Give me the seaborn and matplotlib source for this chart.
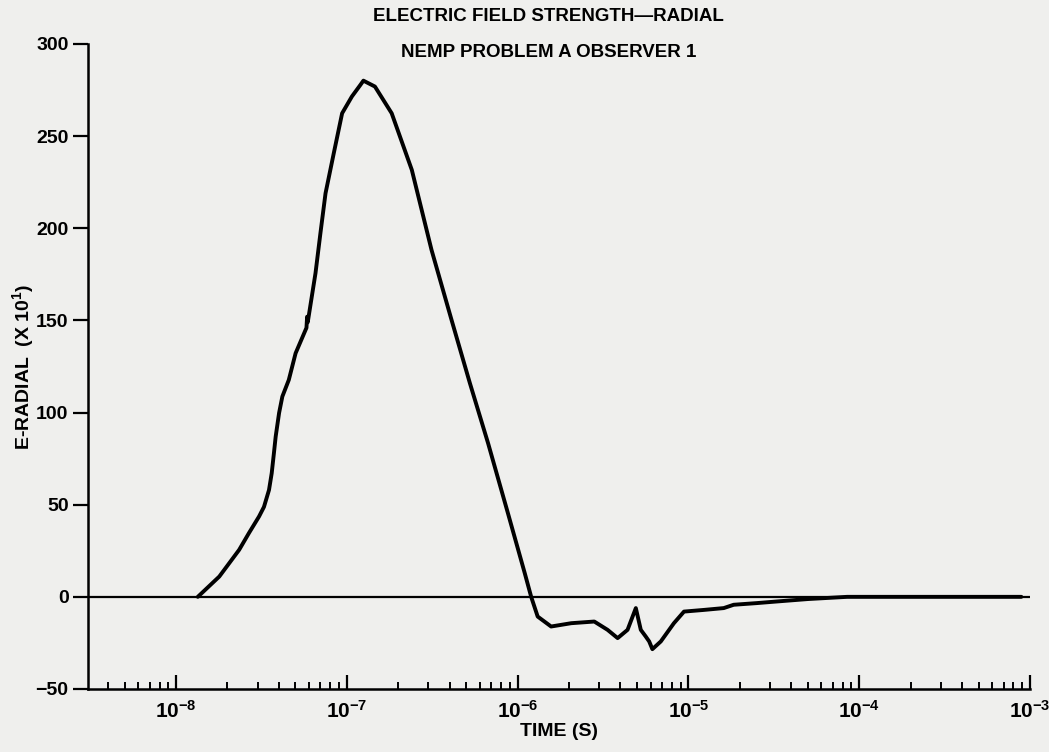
import numpy as np
import pandas as pd
import matplotlib
matplotlib.use("Agg")
import matplotlib.pyplot as plt
import matplotlib.ticker as mticker
from matplotlib import font_manager
import seaborn as sns

# values: time in seconds, E-radial in units of 10^1
time_s = [
    1.34e-8, 1.79e-8, 2.34e-8, 2.67e-8, 3.06e-8, 3.27e-8, 3.50e-8, 3.63e-8,
    3.74e-8, 3.83e-8, 4.01e-8, 4.19e-8, 4.57e-8, 5.01e-8, 5.80e-8, 5.85e-8,
    5.90e-8, 6.55e-8, 7.00e-8, 7.50e-8, 8.38e-8, 9.38e-8, 1.07e-7, 1.20e-7,
    1.25e-7, 1.46e-7, 1.83e-7, 2.40e-7, 3.13e-7, 4.10e-7, 5.25e-7, 6.71e-7,
    8.77e-7, 1.10e-6, 1.20e-6, 1.31e-6, 1.57e-6, 2.06e-6, 2.81e-6, 3.36e-6,
    3.85e-6, 4.40e-6, 4.92e-6, 5.26e-6, 5.62e-6, 5.89e-6, 6.15e-6, 6.89e-6,
    8.22e-6, 9.42e-6, 1.23e-5, 1.61e-5, 1.84e-5, 2.51e-5, 3.31e-5, 5.0e-5,
    8.5e-5, 8.9e-4,
]
e_radial = [
    0, 11, 25.5, 34.6, 43.6, 48.8, 58, 67.1,
    78, 87, 99.8, 108.7, 117.7, 132.2, 146, 152,
    149, 175.6, 197.3, 219, 240.7, 262.4, 271.5, 277.8,
    280.1, 276.9, 262.4, 231.7, 188.3, 150.3, 116, 83.4,
    45.4, 12.9, 0, -10.7, -16.1, -14.3, -13.4, -17.9,
    -22.4, -17.9, -6.1, -17.9, -21.5, -24.2, -28.4, -24.2,
    -14.3, -8.0, -7.1, -6.1, -4.3, -3.4, -2.5, -1.2,
    0, 0,
]
y_ticks = [-50, 0, 50, 100, 150, 200, 250, 300]
x_decades = [1e-8, 1e-7, 1e-6, 1e-5, 1e-4, 1e-3]

df = pd.DataFrame({"time": time_s, "e": e_radial})

installed = {f.name for f in font_manager.fontManager.ttflist}
main_font = "Liberation Sans Narrow" if "Liberation Sans Narrow" in installed else "Liberation Sans"

bg = "#efefed"
sns.set_style("ticks")
plt.rcParams["font.family"] = [main_font, "DejaVu Sans"]
plt.rcParams["font.weight"] = "bold"
plt.rcParams["mathtext.fontset"] = "custom"
plt.rcParams["mathtext.bf"] = main_font + ":bold"
plt.rcParams["mathtext.rm"] = main_font + ":bold"
plt.rcParams["mathtext.default"] = "bf"
plt.rcParams["text.color"] = "black"
plt.rcParams["axes.labelcolor"] = "black"
plt.rcParams["xtick.color"] = "black"
plt.rcParams["ytick.color"] = "black"
plt.rcParams["axes.edgecolor"] = "black"

fig = plt.figure(figsize=(10.49, 7.52), dpi=100, facecolor=bg)
ax = fig.add_axes([0.0839, 0.0838, 0.898, 0.8577], facecolor=bg)

ax.axhline(0, color="black", lw=1.6, zorder=1)
sns.lineplot(data=df, x="time", y="e", ax=ax, color="black", lw=2.8,
             estimator=None, sort=False, zorder=3)

ax.set_xscale("log")
ax.set_xlim(3.05e-9, 1e-3)
ax.set_ylim(-50, 300)
ax.set_yticks(y_ticks)
ax.set_xticks(x_decades)
ax.xaxis.set_minor_locator(mticker.LogLocator(base=10, subs=np.arange(2, 10), numticks=20))
ax.xaxis.set_minor_formatter(mticker.NullFormatter())
ax.xaxis.set_major_formatter(mticker.FuncFormatter(
    lambda v, p: r"$\mathbf{10^{%d}}$" % round(np.log10(v))))

sns.despine(ax=ax)
for s in ["left", "bottom"]:
    ax.spines[s].set_linewidth(1.8)
ax.tick_params(axis="x", which="major", direction="in", length=10, width=1.6,
               labelsize=15, pad=8)
ax.tick_params(axis="x", which="minor", direction="in", length=5, width=1.4)
ax.tick_params(axis="y", direction="out", length=11, width=1.6, labelsize=14, pad=3)
for lab in ax.get_yticklabels():
    lab.set_fontweight("bold")

ax.set_xlabel("TIME (S)", fontsize=14, fontweight="bold", labelpad=1)
ax.set_ylabel(r"E-RADIAL  (X 10$^{1}$)", fontsize=14, fontweight="bold")
ax.yaxis.set_label_coords(-0.055, 0.5)

fig.text(0.523, 0.978, "ELECTRIC FIELD STRENGTH\u2014RADIAL", ha="center", va="center",
         fontsize=13.5, fontweight="bold")
fig.text(0.523, 0.93, "NEMP PROBLEM A OBSERVER 1", ha="center", va="center",
         fontsize=13.5, fontweight="bold")

fig.savefig("out.png", dpi=100, facecolor=bg)
